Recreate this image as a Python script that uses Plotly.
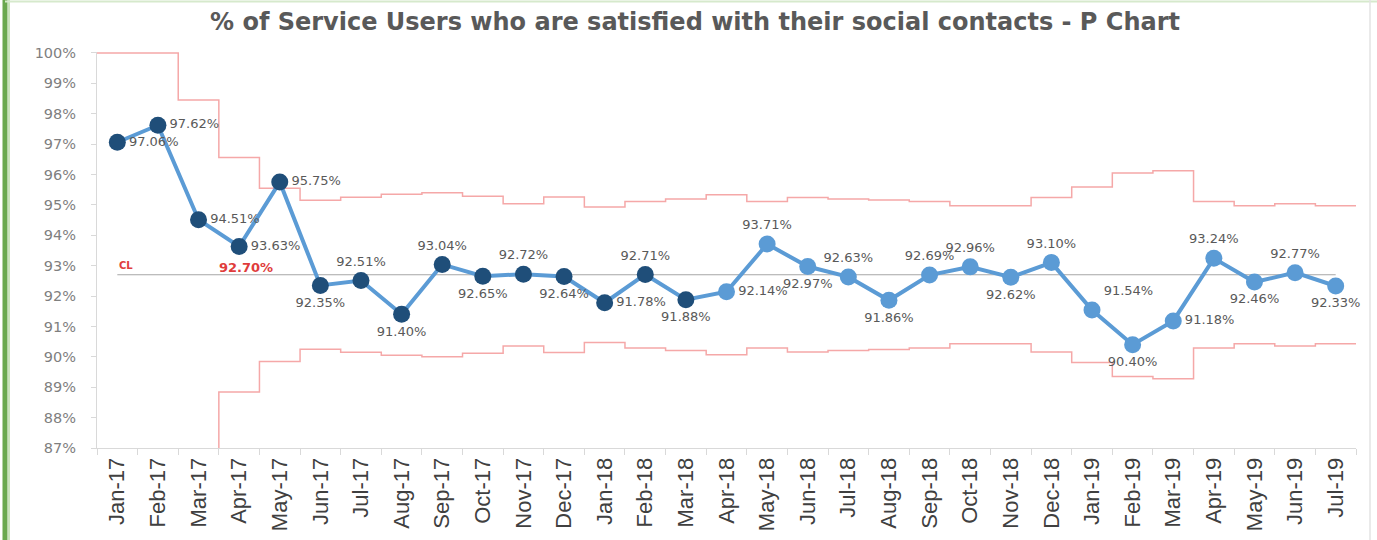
import plotly.graph_objects as go

# Monthly P chart: % of service users satisfied with their social contacts
months = ["Jan-17", "Feb-17", "Mar-17", "Apr-17", "May-17", "Jun-17", "Jul-17",
          "Aug-17", "Sep-17", "Oct-17", "Nov-17", "Dec-17", "Jan-18", "Feb-18",
          "Mar-18", "Apr-18", "May-18", "Jun-18", "Jul-18", "Aug-18", "Sep-18",
          "Oct-18", "Nov-18", "Dec-18", "Jan-19", "Feb-19", "Mar-19", "Apr-19",
          "May-19", "Jun-19", "Jul-19"]

pct_satisfied = [97.06, 97.62, 94.51, 93.63, 95.75, 92.35, 92.51, 91.40, 93.04,
                 92.65, 92.72, 92.64, 91.78, 92.71, 91.88, 92.14, 93.71, 92.97,
                 92.63, 91.86, 92.69, 92.96, 92.62, 93.10, 91.54, 90.40, 91.18,
                 93.24, 92.46, 92.77, 92.33]

centre_line = 92.70

upper_limit = [100.0, 100.0, 98.45, 96.56, 95.55, 95.15, 95.25, 95.35, 95.40,
               95.28, 95.04, 95.26, 94.93, 95.11, 95.19, 95.33, 95.11, 95.24,
               95.19, 95.16, 95.11, 94.97, 94.97, 95.24, 95.59, 96.05, 96.12,
               95.11, 94.97, 95.04, 94.97]

lower_limit = [85.00, 85.00, 86.95, 88.84, 89.85, 90.25, 90.15, 90.05, 90.00,
               90.12, 90.36, 90.14, 90.47, 90.29, 90.21, 90.07, 90.29, 90.16,
               90.21, 90.24, 90.29, 90.43, 90.43, 90.16, 89.81, 89.35, 89.28,
               90.29, 90.43, 90.36, 90.43]

# Where each point label sits relative to its marker
label_pos = ["middle right", "middle right", "middle right", "middle right",
             "middle right", "bottom center", "top center", "bottom center",
             "top center", "bottom center", "top center", "bottom center",
             "middle right", "top center", "bottom center", "middle right",
             "top center", "bottom center", "top center", "bottom center",
             "top center", "top center", "bottom center", "top center",
             "top right", "bottom center", "middle right", "top center",
             "bottom center", "top center", "bottom center"]

N_DARK = 15  # first fifteen months drawn with the dark marker

W, H = 1377, 540
L, R, T, B = 97, 1356, 52, 448.5

x = list(range(len(months)))
marker_colors = ["#1F4E79" if i < N_DARK else "#5B9BD5" for i in x]

fig = go.Figure()

# Control limits as steps across each month's width
step_x = [i - 0.5 for i in x] + [len(x) - 0.5]
for lim in (upper_limit, lower_limit):
    fig.add_trace(go.Scatter(
        x=step_x, y=lim + [lim[-1]], mode="lines", line_shape="hv",
        line=dict(color="#F5A8A8", width=1.5), hoverinfo="skip",
        showlegend=False))

# Centre line
fig.add_trace(go.Scatter(
    x=x, y=[centre_line] * len(x), mode="lines",
    line=dict(color="#A6A6A6", width=1.2), showlegend=False, hoverinfo="skip"))

# Monthly proportions
fig.add_trace(go.Scatter(
    x=x, y=pct_satisfied, mode="lines+markers+text",
    line=dict(color="#5B9BD5", width=4),
    marker=dict(size=17, color=marker_colors, line=dict(width=0)),
    text=[f"{v:.2f}%" for v in pct_satisfied], textposition=label_pos,
    textfont=dict(family="DejaVu Sans", size=13, color="#595959"),
    cliponaxis=False, showlegend=False))


def px_x(p):
    return (p - L) / (R - L)


def px_y(p):
    return (B - p) / (B - T)


fig.add_annotation(x=0, y=centre_line, xref="x", yref="y", text="<b>CL</b>",
                   showarrow=False, xanchor="left", yanchor="bottom", yshift=2,
                   font=dict(family="DejaVu Sans", size=10, color="#E03C3C"))
fig.add_annotation(x=3, y=centre_line, xref="x", yref="y",
                   text=f"<b>{centre_line:.2f}%</b>",
                   showarrow=False, xanchor="center", yanchor="bottom", yshift=-2,
                   xshift=7,
                   font=dict(family="DejaVu Sans", size=13, color="#E03C3C"))

shapes = [
    # green edge on the left of the frame
    dict(type="line", xref="paper", yref="paper", x0=px_x(5), x1=px_x(5),
         y0=px_y(0), y1=px_y(W), line=dict(color="#6AA84F", width=5)),
    dict(type="line", xref="paper", yref="paper", x0=px_x(9), x1=px_x(9),
         y0=px_y(0), y1=px_y(W), line=dict(color="#C9E3BC", width=2)),
    dict(type="line", xref="paper", yref="paper", x0=px_x(5), x1=px_x(W),
         y0=px_y(1.5), y1=px_y(1.5), line=dict(color="#D6E9CC", width=2)),
    dict(type="line", xref="paper", yref="paper", x0=px_x(1370), x1=px_x(1370),
         y0=px_y(0), y1=px_y(W), line=dict(color="#E3E3E3", width=1.5)),
]

fig.update_layout(
    width=W, height=H,
    margin=dict(l=L, r=W - R, t=T, b=H - B),
    paper_bgcolor="white", plot_bgcolor="white",
    shapes=shapes,
    title=dict(text="<b>% of Service Users who are satisfied with their social contacts - P Chart</b>",
               xref="container", x=695 / W, xanchor="center",
               yref="container", y=1 - 22 / H, yanchor="middle",
               font=dict(family="DejaVu Sans", size=24, color="#595959")),
    xaxis=dict(range=[-0.5, len(x) - 0.5], tickmode="array", tickvals=x,
               ticktext=months, tickangle=-90, ticks="", showgrid=False,
               automargin=False,
               zeroline=False, showline=True, linecolor="#D9D9D9", linewidth=1,
               tickfont=dict(family="Liberation Sans", size=22, color="#404040"),
               minor=dict(tickmode="array", tickvals=step_x, ticks="outside",
                          ticklen=6, tickcolor="#D9D9D9", showgrid=False)),
    yaxis=dict(range=[87, 100.03], tickvals=list(range(87, 101)),
               ticktext=[f"{v}%" for v in range(87, 101)],
               ticks="outside", ticklen=5, tickcolor="#D9D9D9",
               ticklabelstandoff=12, automargin=False,
               showgrid=False, zeroline=False, showline=True,
               linecolor="#D9D9D9", linewidth=1,
               tickfont=dict(family="DejaVu Sans", size=14.5, color="#7F7F7F")),
)

fig.write_html("out.html")
